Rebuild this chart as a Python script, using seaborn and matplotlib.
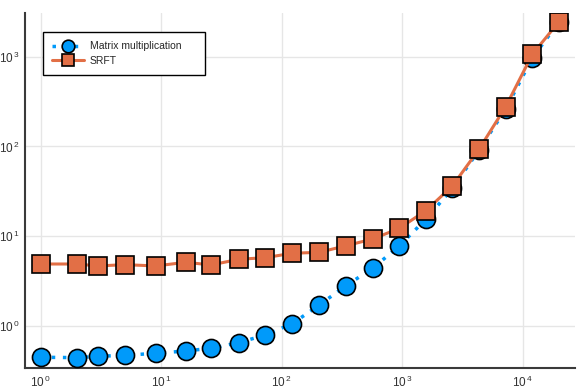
import numpy as np
import pandas as pd
import matplotlib
matplotlib.use("Agg")
import matplotlib.pyplot as plt
import seaborn as sns
from matplotlib.ticker import LogLocator, FuncFormatter, NullLocator

# ---- data ----
sizes = [1, 2, 3, 5, 9, 16, 26, 44, 73, 122, 205, 342, 569, 946, 1578,
         2606, 4335, 7228, 12023, 20000]
matmul_times = [0.444, 0.44, 0.455, 0.467, 0.492, 0.522, 0.56, 0.646, 0.787, 1.05,
                1.70, 2.80, 4.37, 7.76, 15.5, 34.0, 91.0, 262.0, 975.0, 2450.0]
srft_times = [4.88, 4.88, 4.64, 4.80, 4.64, 5.10, 4.76, 5.51, 5.74, 6.43,
              6.59, 7.81, 9.28, 12.2, 19.3, 36.2, 93.0, 278.0, 1069.0, 2472.0]
series_labels = ["Matrix multiplication", "SRFT"]

df = pd.DataFrame({"n": sizes, "matmul": matmul_times, "srft": srft_times})

sns.set_theme(style="white")
plt.rcParams["font.family"] = ["Liberation Sans", "DejaVu Sans"]
plt.rcParams["mathtext.fontset"] = "custom"
plt.rcParams["mathtext.rm"] = "Liberation Sans"
plt.rcParams["mathtext.it"] = "Liberation Sans:italic"

fig = plt.figure(figsize=(5.86, 3.91), dpi=100)
ax = fig.add_axes([25 / 586, 1 - 367.7 / 391, 550 / 586, (367.7 - 13) / 391])

blue = "#009AFA"
orange = "#E26F46"

sns.lineplot(data=df, x="n", y="matmul", ax=ax, color=blue, linestyle=(0, (1, 2.2)),
             linewidth=2.5, marker="o", markersize=13, markerfacecolor=blue,
             markeredgecolor="black", markeredgewidth=1.2, label=series_labels[0],
             zorder=3)
sns.lineplot(data=df, x="n", y="srft", ax=ax, color=orange, linestyle="-",
             linewidth=2.2, marker="s", markersize=13, markerfacecolor=orange,
             markeredgecolor="black", markeredgewidth=1.2, label=series_labels[1],
             zorder=4)

ax.set_xscale("log")
ax.set_yscale("log")
ax.set_xlim(10 ** -0.13, 10 ** 4.434)
ax.set_ylim(10 ** -0.469, 10 ** 3.49)
ax.xaxis.set_major_locator(LogLocator(base=10, numticks=10))
ax.yaxis.set_major_locator(LogLocator(base=10, numticks=10))
ax.xaxis.set_minor_locator(NullLocator())
ax.yaxis.set_minor_locator(NullLocator())


def pow_fmt(v, pos):
    e = int(round(np.log10(v)))
    return r"$\mathregular{10^{\,%d}}$" % e


ax.xaxis.set_major_formatter(FuncFormatter(pow_fmt))
ax.yaxis.set_major_formatter(FuncFormatter(pow_fmt))
ax.set_xlabel("")
ax.set_ylabel("")

ax.grid(True, color="#E6E6E6", linewidth=1.0)
ax.set_axisbelow(True)
for s in ["top", "right"]:
    ax.spines[s].set_visible(False)
for s in ["bottom", "left"]:
    ax.spines[s].set_color("#3a3a3a")
    ax.spines[s].set_linewidth(1.5)
ax.tick_params(axis="both", direction="in", length=5, width=1.2, color="#3a3a3a",
               labelsize=8.5, labelcolor="#333333", pad=4)
ax.tick_params(axis="x", pad=5)

leg_w = (205 - 43) / 550
leg_h = (77 - 32) / 354.7
leg_x = (43 - 25) / 550
leg_top = (367.7 - 32) / 354.7
leg = ax.legend(loc="upper left", bbox_to_anchor=(leg_x, leg_top - leg_h, leg_w, leg_h),
                mode="expand", borderaxespad=0,
                fontsize=7.5, frameon=True, fancybox=False, edgecolor="black",
                framealpha=1, markerscale=0.7, handlelength=3.0,
                labelspacing=0.45, borderpad=0.9, handletextpad=0.6)
leg.get_frame().set_linewidth(1.0)

fig.savefig("out.png", dpi=100)
